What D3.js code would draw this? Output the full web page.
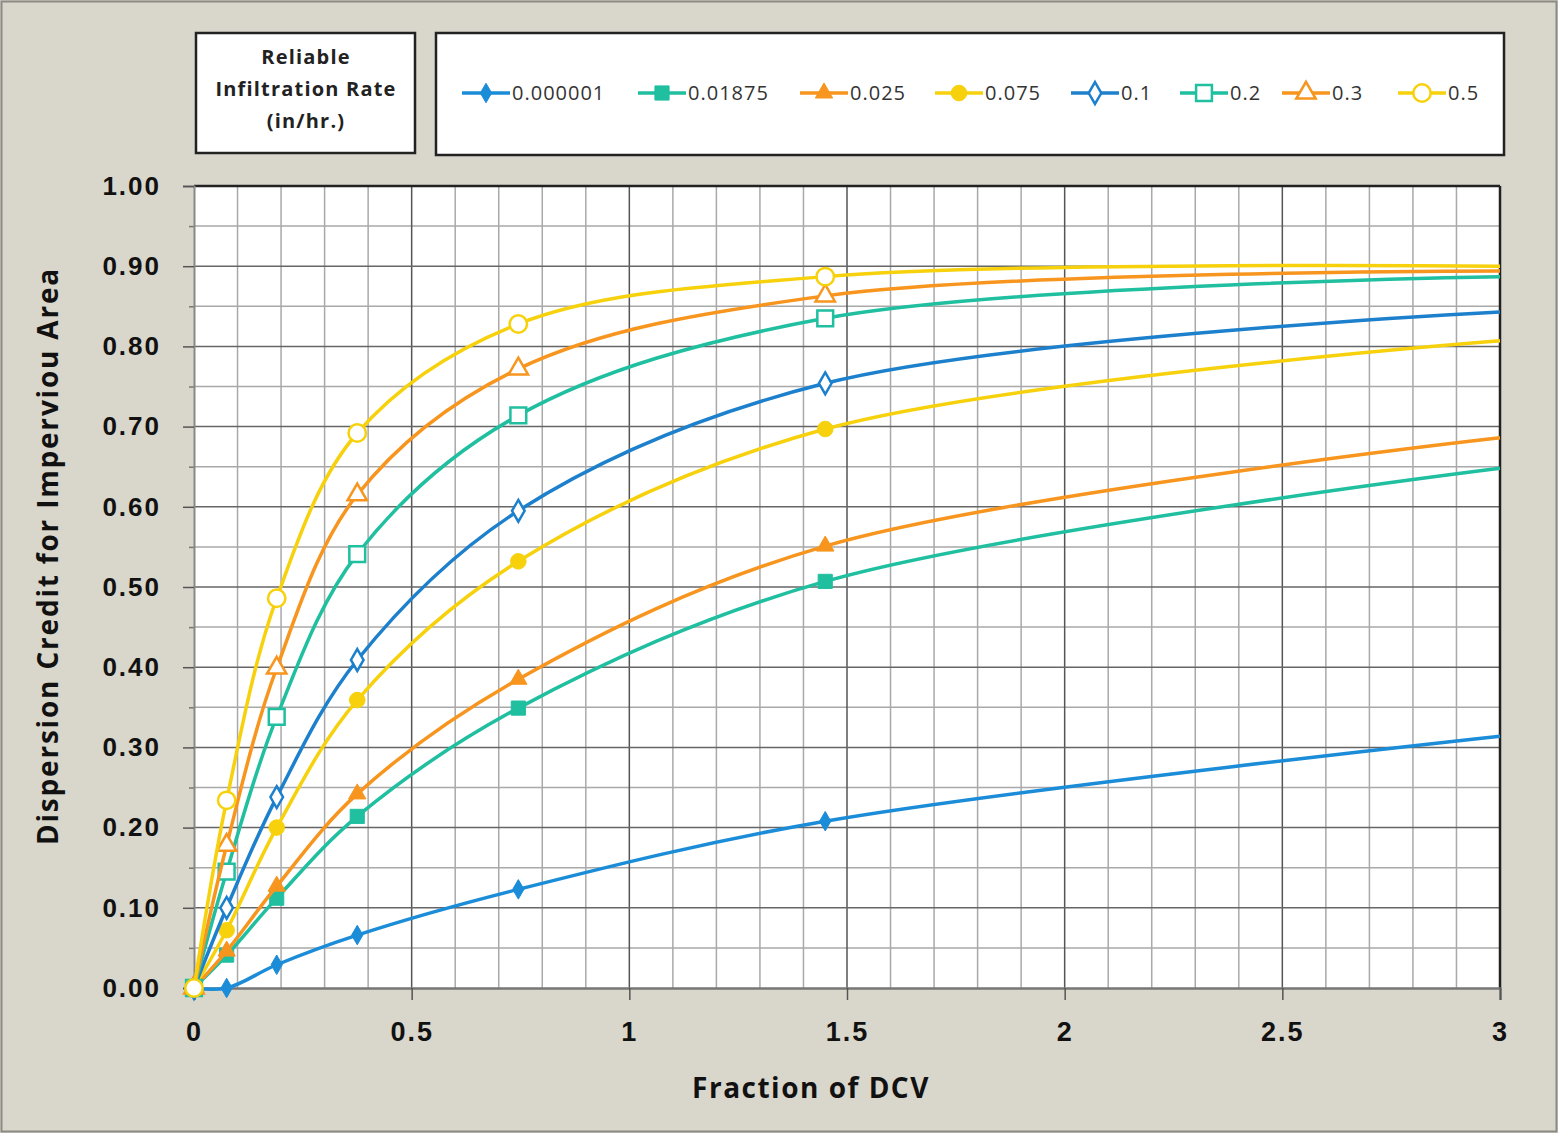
<!DOCTYPE html>
<html>
<head>
<meta charset="utf-8">
<script src="https://cdn.jsdelivr.net/npm/d3@7"></script>
<style>
  html, body { margin: 0; padding: 0; background: #d9d6cb; }
  svg { display: block; font-family: "Open Sans", "DejaVu Sans", sans-serif; }
</style>
</head>
<body>
<div id="chart"></div>
<script>
// fraction of DCV where the points sit
const xValues = [0, 0.075, 0.19, 0.375, 0.745, 1.45, 3.0];

const rateLabels = ['0.000001', '0.01875', '0.025', '0.075', '0.1', '0.2', '0.3', '0.5'];

const credit_000001 = [0, 0.000, 0.029, 0.066, 0.123, 0.208, 0.314];
const credit_01875  = [0, 0.041, 0.112, 0.214, 0.349, 0.507, 0.648];
const credit_025    = [0, 0.046, 0.127, 0.242, 0.385, 0.551, 0.686];
const credit_075    = [0, 0.072, 0.200, 0.359, 0.532, 0.697, 0.807];
const credit_1      = [0, 0.100, 0.238, 0.409, 0.595, 0.754, 0.843];
const credit_2      = [0, 0.145, 0.338, 0.541, 0.714, 0.835, 0.887];
const credit_3      = [0, 0.178, 0.399, 0.615, 0.772, 0.863, 0.894];
const credit_5      = [0, 0.234, 0.486, 0.692, 0.828, 0.887, 0.900];

const xTicks = [0, 0.5, 1, 1.5, 2, 2.5, 3];
const yTicks = [0, 0.1, 0.2, 0.3, 0.4, 0.5, 0.6, 0.7, 0.8, 0.9, 1.0];

const series = [
  { name: rateLabels[0], values: credit_000001, color: '#1b8cd8', shape: 'diamond', filled: true },
  { name: rateLabels[1], values: credit_01875,  color: '#1fbfa0', shape: 'square',  filled: true },
  { name: rateLabels[2], values: credit_025,    color: '#f7951e', shape: 'triangle', filled: true },
  { name: rateLabels[3], values: credit_075,    color: '#f6d10c', shape: 'circle',  filled: true },
  { name: rateLabels[4], values: credit_1,      color: '#1d80cc', shape: 'diamond', filled: false },
  { name: rateLabels[5], values: credit_2,      color: '#1fbfa0', shape: 'square',  filled: false },
  { name: rateLabels[6], values: credit_3,      color: '#f7951e', shape: 'triangle', filled: false },
  { name: rateLabels[7], values: credit_5,      color: '#f6d10c', shape: 'circle',  filled: false },
];

const W = 1558, H = 1133;
const plot = { left: 194, right: 1500, top: 186, bottom: 988 };

const svg = d3.select('#chart').append('svg')
  .attr('width', W).attr('height', H);

svg.append('rect')
  .attr('x', 1.5).attr('y', 1.5).attr('width', W - 3).attr('height', H - 3)
  .attr('fill', '#d9d6cb').attr('stroke', '#8c8a84').attr('stroke-width', 2);

const x = d3.scaleLinear().domain([0, 3]).range([plot.left, plot.right]);
const y = d3.scaleLinear().domain([0, 1]).range([plot.bottom, plot.top]);

svg.append('rect')
  .attr('x', plot.left).attr('y', plot.top)
  .attr('width', plot.right - plot.left).attr('height', plot.bottom - plot.top)
  .attr('fill', '#fff');

const grid = svg.append('g');

// minor grid
grid.selectAll('.vminor')
  .data(d3.range(1, 30).map(i => i / 10).filter(v => Math.round(v * 10) % 5 !== 0))
  .enter().append('line')
  .attr('x1', d => x(d)).attr('x2', d => x(d))
  .attr('y1', plot.top).attr('y2', plot.bottom)
  .attr('stroke', '#a9a9a9').attr('stroke-width', 1.5);

grid.selectAll('.hminor')
  .data(d3.range(1, 20, 2).map(i => i / 20))
  .enter().append('line')
  .attr('x1', plot.left).attr('x2', plot.right)
  .attr('y1', d => y(d)).attr('y2', d => y(d))
  .attr('stroke', '#a9a9a9').attr('stroke-width', 1.5);

// major grid
grid.selectAll('.vmajor')
  .data(xTicks.slice(1, -1))
  .enter().append('line')
  .attr('x1', d => x(d)).attr('x2', d => x(d))
  .attr('y1', plot.top).attr('y2', plot.bottom)
  .attr('stroke', '#555').attr('stroke-width', 1.5);

grid.selectAll('.hmajor')
  .data(yTicks.slice(1, -1))
  .enter().append('line')
  .attr('x1', plot.left).attr('x2', plot.right)
  .attr('y1', d => y(d)).attr('y2', d => y(d))
  .attr('stroke', '#666').attr('stroke-width', 1.5);

// plot frame
svg.append('line').attr('x1', plot.left).attr('x2', plot.right)
  .attr('y1', plot.top).attr('y2', plot.top).attr('stroke', '#222').attr('stroke-width', 2.5);
svg.append('line').attr('x1', plot.right).attr('x2', plot.right)
  .attr('y1', plot.top).attr('y2', plot.bottom).attr('stroke', '#222').attr('stroke-width', 2.5);

// minor y ticks
svg.append('g')
  .attr('transform', `translate(${plot.left},0)`)
  .call(d3.axisLeft(y).tickValues(d3.range(1, 20, 2).map(i => i / 20)).tickSize(5).tickFormat(''))
  .call(g => g.select('.domain').remove())
  .selectAll('.tick line').attr('stroke', '#777').attr('stroke-width', 1.5);

// axes
const xAxis = svg.append('g')
  .attr('transform', `translate(0,${plot.bottom})`)
  .call(d3.axisBottom(x).tickValues(xTicks).tickFormat(d3.format('')).tickSize(12).tickPadding(22));
xAxis.select('.domain').attr('stroke', '#777').attr('stroke-width', 2.5);
xAxis.selectAll('.tick line').attr('stroke', '#555').attr('stroke-width', 1.5);
xAxis.selectAll('text').attr('font-size', 27).attr('font-weight', 'bold').attr('fill', '#111')
  .attr('letter-spacing', 2);

const yAxis = svg.append('g')
  .attr('transform', `translate(${plot.left},0)`)
  .call(d3.axisLeft(y).tickValues(yTicks).tickFormat(d3.format('.2f')).tickSize(11).tickPadding(22));
yAxis.select('.domain').attr('stroke', '#888').attr('stroke-width', 2);
yAxis.selectAll('.tick line').attr('stroke', '#555').attr('stroke-width', 1.5);
yAxis.selectAll('text').attr('font-size', 26).attr('font-weight', 'bold').attr('fill', '#111')
  .attr('letter-spacing', 2);

svg.append('text')
  .attr('x', 811).attr('y', 1098)
  .attr('text-anchor', 'middle')
  .attr('font-size', 28).attr('font-weight', 'bold').attr('fill', '#111')
  .attr('letter-spacing', 1.5)
  .text('Fraction of DCV');

svg.append('text')
  .attr('transform', `translate(58,556) rotate(-90)`)
  .attr('text-anchor', 'middle')
  .attr('font-size', 28).attr('font-weight', 'bold').attr('fill', '#111')
  .attr('letter-spacing', 1.8)
  .text('Dispersion Credit for Imperviou Area');

// marker helper
const symbolFor = { diamond: d3.symbolDiamond, square: d3.symbolSquare, triangle: d3.symbolTriangle, circle: d3.symbolCircle };
const sizeFor = { diamond: 110, square: 200, triangle: 130, circle: 190 };
function marker(sel, s) {
  sel.append('path')
    .attr('d', d3.symbol().type(symbolFor[s.shape]).size(sizeFor[s.shape] * (s.filled ? 1 : 1.25))())
    .attr('fill', s.filled ? s.color : '#fff')
    .attr('stroke', s.color)
    .attr('stroke-width', s.filled ? 1 : 2.5);
}

const line = d3.line()
  .x((d, i) => x(xValues[i]))
  .y(d => y(d))
  .curve(d3.curveCatmullRom.alpha(0.5));

series.forEach(s => {
  const g = svg.append('g');
  g.append('path')
    .datum(s.values)
    .attr('fill', 'none')
    .attr('stroke', s.color)
    .attr('stroke-width', 3.5)
    .attr('d', line);
  // markers on the measured points (the end point at x = 3 has none)
  s.values.slice(0, -1).forEach((v, i) => {
    const m = g.append('g').attr('transform', `translate(${x(xValues[i])},${y(v)})`);
    marker(m, s);
  });
});

// legend title box
const lt = svg.append('g');
lt.append('rect').attr('x', 196).attr('y', 33).attr('width', 219).attr('height', 120)
  .attr('fill', '#fff').attr('stroke', '#222').attr('stroke-width', 2.5);
['Reliable', 'Infiltration Rate', '(in/hr.)'].forEach((t, i) => {
  lt.append('text').attr('x', 306).attr('y', 64 + i * 32)
    .attr('text-anchor', 'middle').attr('font-size', 20).attr('font-weight', 'bold').attr('fill', '#222')
    .attr('letter-spacing', 1.2)
    .text(t);
});

// legend
const lg = svg.append('g');
lg.append('rect').attr('x', 436).attr('y', 33).attr('width', 1068).attr('height', 122)
  .attr('fill', '#fff').attr('stroke', '#222').attr('stroke-width', 2.5);
const legendX = [462, 638, 800, 935, 1071, 1180, 1282, 1398];
series.forEach((s, i) => {
  const item = lg.append('g').attr('transform', `translate(${legendX[i]},93)`);
  item.append('line').attr('x1', 0).attr('x2', 48).attr('stroke', s.color).attr('stroke-width', 3.5);
  const m = item.append('g').attr('transform', 'translate(24,0)');
  marker(m, s);
  item.append('text').attr('x', 50).attr('y', 7)
    .attr('font-size', 20).attr('fill', '#333').attr('letter-spacing', 1)
    .text(s.name);
});
</script>
</body>
</html>
